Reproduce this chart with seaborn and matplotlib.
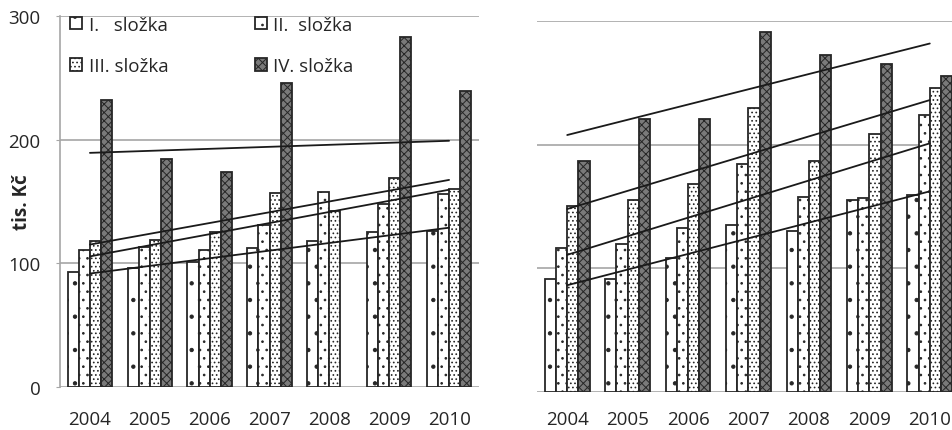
import numpy as np
import pandas as pd
import matplotlib
matplotlib.use("Agg")
import matplotlib.pyplot as plt
import seaborn as sns

# Years and component names
years = ["2004", "2005", "2006", "2007", "2008", "2009", "2010"]
components = ["I.   složka", "II.  složka", "III. složka", "IV. složka"]

# Left panel values (tis. Kč)
left_I = [93, 96.7, 101, 112.7, 118, 125, 126]
left_II = [111, 113.6, 110.6, 131, 158, 148, 156]
left_III = [118, 118.7, 125, 156.6, 142, 169, 160]
left_IV = [232, 184.5, 174, 246, np.nan, 283, 239.5]

# Right panel values (tis. Kč)
right_I = [91, 91.4, 108.4, 134.8, 130, 155, 159.5]
right_II = [116.7, 119.7, 133, 184, 158, 156.6, 224]
right_III = [150.7, 155, 168, 229.4, 186.5, 208.9, 245.6]
right_IV = [187, 221, 221, 291.3, 272.8, 265, 255.5]

yticks = [0, 100, 200, 300]

sns.set_style("white")
plt.rcParams["font.family"] = ["Open Sans", "DejaVu Sans"]
plt.rcParams["hatch.linewidth"] = 0.7

FS = 13.5
TXT = "#262626"
GRID = "#a6a6a6"

fills = [
    dict(face="white", hatch="."),
    dict(face="white", hatch=".."),
    dict(face="white", hatch="...."),
    dict(face="#7a7a7a", hatch="xxxx"),
]

fig = plt.figure(figsize=(9.53, 4.31), dpi=100)
ax_l = fig.add_axes([60 / 953, 42.7 / 431, 419 / 953, 371.6 / 431])
ax_r = fig.add_axes([537 / 953, 38 / 431, 423 / 953, 371 / 431])


def draw(ax, series):
    df = pd.DataFrame({
        "rok": np.tile(years, len(components)),
        "složka": np.repeat(components, len(years)),
        "hodnota": np.concatenate([np.asarray(s, float) for s in series]),
    })
    sns.barplot(data=df, x="rok", y="hodnota", hue="složka", order=years,
                hue_order=components, width=0.74, errorbar=None,
                saturation=1, edgecolor="#262626", linewidth=1.3,
                legend=False, ax=ax)
    for cont, st in zip(ax.containers, fills):
        for p in cont.patches:
            p.set_facecolor(st["face"])
            p.set_hatch(st["hatch"])
    # linear trend for each component (missing year counted as zero)
    xs = np.arange(len(years))
    for vals in series:
        y = np.nan_to_num(np.asarray(vals, float))
        k, q = np.polyfit(xs, y, 1)
        ax.plot([xs[0], xs[-1]], [q + k * xs[0], q + k * xs[-1]],
                color="#1a1a1a", lw=1.3, zorder=5)
    ax.set_ylim(0, 300)
    ax.set_xlim(-0.5, len(years) - 0.5)
    ax.set_yticks(yticks)
    ax.yaxis.grid(True, color=GRID, lw=1.2)
    ax.set_axisbelow(True)
    ax.set_xlabel("")
    for s in ["top", "right", "bottom"]:
        ax.spines[s].set_visible(False)
    ax.tick_params(axis="x", length=0, pad=16, labelsize=FS, labelcolor=TXT)


draw(ax_l, [left_I, left_II, left_III, left_IV])
draw(ax_r, [right_I, right_II, right_III, right_IV])

ax_l.spines["left"].set_color(GRID)
ax_l.spines["left"].set_linewidth(1.2)
ax_l.tick_params(axis="y", length=3, color=GRID, pad=11, labelsize=FS,
                 labelcolor=TXT, left=True)
ax_l.set_ylabel("tis. Kč", fontsize=FS, fontweight="bold", color=TXT)
ax_l.yaxis.set_label_coords(-0.066, 0.5)

ax_r.spines["left"].set_visible(False)
ax_r.set_ylabel("")
ax_r.tick_params(axis="y", length=0, labelleft=False)
ax_r.tick_params(axis="x", pad=13)

h = [cont.patches[0] for cont in ax_l.containers]
order = [0, 2, 1, 3]
ax_l.legend(handles=[h[i] for i in order], labels=[components[i] for i in order],
            ncol=2, loc="upper left", bbox_to_anchor=(0.024, 1.0),
            frameon=False, fontsize=FS, handlelength=0.65, handleheight=0.65,
            handletextpad=0.35, columnspacing=4.6, labelspacing=1.25,
            borderpad=0, borderaxespad=0, labelcolor=TXT)

fig.savefig("out.png", dpi=100)
